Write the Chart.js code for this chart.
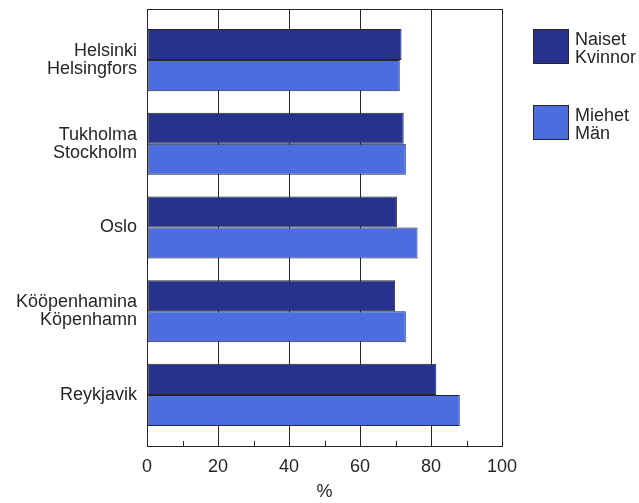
<!DOCTYPE html>
<html>
<head>
<meta charset="utf-8">
<script src="https://cdn.jsdelivr.net/npm/chart.js@4.4.1/dist/chart.umd.min.js"></script>
<style>
  html, body { margin: 0; padding: 0; background: #fff; }
  #wrap { width: 639px; height: 503px; }
</style>
</head>
<body>
<div id="wrap"><canvas id="chart"></canvas></div>
<script>
// data
const cities = [
    ['Helsinki', 'Helsingfors'],
    ['Tukholma', 'Stockholm'],
    ['Oslo'],
    ['Kööpenhamina', 'Köpenhamn'],
    ['Reykjavik']
]
const women = [71.7, 72.3, 70.4, 69.9, 81.5]
const men = [71.2, 72.9, 76.2, 72.9, 88.1]
const seriesNames = [['Naiset', 'Kvinnor'], ['Miehet', 'Män']]
const xTicks = [0, 20, 40, 60, 80, 100]
const minorTicks = [10, 30, 50, 70, 90]

const dark = '#27328f'
const light = '#4e70e4'
const ink = '#262626'
const font = 'Liberation Sans, Arial, sans-serif'

// slight diagonal texture like the scanned light bars
function hatch(color){
    const c = document.createElement('canvas')
    c.width = 4; c.height = 4
    const g = c.getContext('2d')
    g.fillStyle = color
    g.fillRect(0, 0, 4, 4)
    g.strokeStyle = 'rgba(40,60,160,0.2)'
    g.lineWidth = 1
    g.beginPath()
    g.moveTo(0, 4); g.lineTo(4, 0)
    g.stroke()
    return g.createPattern(c, 'repeat')
}
const lightFill = hatch(light)

const toPoints = arr => arr.map((v, i) => ({x: v, y: i}))

const framePlugin = {
    id: 'frame',
    afterDatasetsDraw(chart){
        const {ctx, chartArea: a, scales: {x}} = chart
        ctx.save()
        ctx.strokeStyle = ink
        ctx.lineWidth = 1
        ctx.beginPath()
        ctx.moveTo(a.left, a.top + 0.5)
        ctx.lineTo(a.right, a.top + 0.5)
        ctx.stroke()
        // small inside ticks at the odd tens
        minorTicks.forEach(v => {
            const px = Math.round(x.getPixelForValue(v)) + 0.5
            ctx.beginPath()
            ctx.moveTo(px, a.bottom)
            ctx.lineTo(px, a.bottom - 5)
            ctx.stroke()
        })
        ctx.restore()
    },
    afterDraw(chart){
        const ctx = chart.ctx
        const fills = [dark, lightFill]
        const tops = [29, 105]
        ctx.save()
        ctx.font = '18px ' + font
        ctx.textBaseline = 'alphabetic'
        seriesNames.forEach((lines, i) => {
            ctx.fillStyle = fills[i]
            ctx.fillRect(533, tops[i], 36, 35)
            ctx.strokeStyle = ink
            ctx.lineWidth = 1
            ctx.strokeRect(533.5, tops[i] + 0.5, 35, 34)
            ctx.fillStyle = ink
            lines.forEach((t, j) => ctx.fillText(t, 575, tops[i] + 16 + j * 17.5))
        })
        ctx.restore()
    }
}

const ctx = document.getElementById('chart').getContext('2d')
const myChart = new Chart(ctx, {
    type: 'bar',
    data: {
        datasets: [{
            label: seriesNames[0].join(' / '),
            data: toPoints(women),
            backgroundColor: dark,
            borderColor: ink,
            borderWidth: 1,
            borderSkipped: false
        }, {
            label: seriesNames[1].join(' / '),
            data: toPoints(men),
            backgroundColor: lightFill,
            borderColor: ink,
            borderWidth: 1,
            borderSkipped: false
        }]
    },
    options: {
        indexAxis: 'y',
        responsive: true,
        maintainAspectRatio: false,
        animation: false,
        categoryPercentage: 0.742,
        barPercentage: 1,
        layout: {padding: {top: 9, right: 137, bottom: 0, left: 0}},
        plugins: {legend: {display: false}, tooltip: {enabled: false}},
        scales: {
            x: {
                type: 'linear',
                min: 0,
                max: 100,
                afterBuildTicks: s => { s.ticks = xTicks.map(v => ({value: v})) },
                afterFit: s => { s.height = 57 },
                grid: {color: ink, lineWidth: 1, drawTicks: false},
                border: {color: ink, width: 1},
                ticks: {color: ink, padding: 10, font: {family: font, size: 18}},
                title: {display: true, text: '%', color: ink, font: {family: font, size: 18}, padding: {top: 4, bottom: 0}}
            },
            y: {
                type: 'linear',
                reverse: true,
                offset: false,
                min: -0.61,
                max: 4.61,
                afterBuildTicks: s => { s.ticks = cities.map((c, i) => ({value: i})) },
                afterFit: s => { s.width = 147; s.paddingTop = 0; s.paddingBottom = 0 },
                grid: {display: false, drawTicks: false, offset: false},
                border: {color: ink, width: 1},
                ticks: {
                    color: ink,
                    padding: 10,
                    font: {family: font, size: 18, lineHeight: 1.0},
                    callback: v => cities[v]
                }
            }
        }
    },
    plugins: [framePlugin]
})
</script>
</body>
</html>
